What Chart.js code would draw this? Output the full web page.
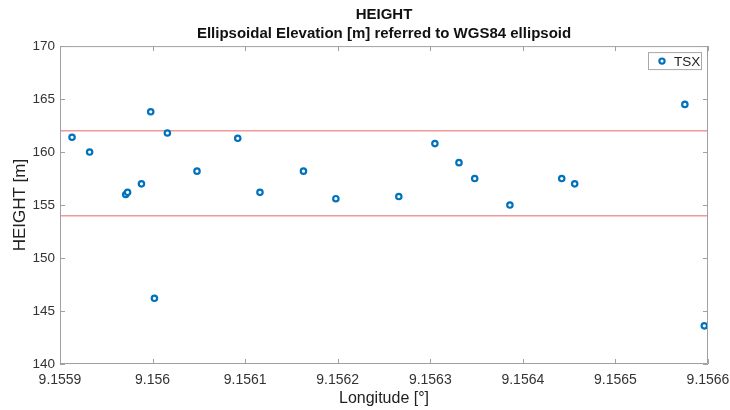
<!DOCTYPE html>
<html>
<head>
<meta charset="utf-8">
<script src="https://cdn.jsdelivr.net/npm/chart.js@4/dist/chart.umd.min.js"></script>
<style>
  html, body { margin: 0; padding: 0; background: #fff; }
</style>
</head>
<body>
<canvas id="heightChart" width="730" height="410"></canvas>
<script>
// TSX height samples along longitude
const longitude = [
  9.155913, 9.155932, 9.155971, 9.155973, 9.155988, 9.155998, 9.156002,
  9.156016, 9.156048, 9.156092, 9.156116, 9.156163, 9.156198, 9.156266,
  9.156305, 9.156331, 9.156348, 9.156386, 9.156442, 9.156456, 9.156575,
  9.156596
];
const height = [
  161.4, 160.0, 156.0, 156.2, 157.0, 163.8, 146.2,
  161.8, 158.2, 161.3, 156.2, 158.2, 155.6, 155.8,
  160.8, 159.0, 157.5, 155.0, 157.5, 157.0, 164.5,
  143.6
];
const upperLimit = 162;
const lowerLimit = 154;
const xTicks = [9.1559, 9.156, 9.1561, 9.1562, 9.1563, 9.1564, 9.1565, 9.1566];
const yTicks = [140, 145, 150, 155, 160, 165, 170];

const FONT = "'Liberation Sans', Arial, Helvetica, sans-serif";
const BOX_COLOR = '#a0a0a0';
const TSX_BLUE = '#0072BD';
const LIMIT_RED = 'rgba(232, 110, 110, 0.7)';

const xMin = xTicks[0];
const xMax = xTicks[xTicks.length - 1];

const tsxPoints = longitude.map((x, i) => ({ x: x, y: height[i] }));
const limitLine = (v) => [{ x: xMin, y: v }, { x: xMax, y: v }];

// axes box with inward tick marks on all four sides, plus the legend
const boxTicks = {
  id: 'boxTicks',
  afterDraw(chart) {
    const { ctx, chartArea: a, scales } = chart;
    const len = 5;
    ctx.save();
    ctx.strokeStyle = BOX_COLOR;
    ctx.lineWidth = 1;
    ctx.beginPath();
    ctx.rect(a.left + 0.5, a.top + 0.5, a.right - a.left - 1, a.bottom - a.top - 1);
    scales.x.ticks.forEach(t => {
      const px = Math.round(scales.x.getPixelForValue(t.value)) + 0.5;
      ctx.moveTo(px, a.bottom); ctx.lineTo(px, a.bottom - len);
      ctx.moveTo(px, a.top); ctx.lineTo(px, a.top + len);
    });
    scales.y.ticks.forEach(t => {
      const py = Math.round(scales.y.getPixelForValue(t.value)) + 0.5;
      ctx.moveTo(a.left, py); ctx.lineTo(a.left + len, py);
      ctx.moveTo(a.right, py); ctx.lineTo(a.right - len, py);
    });
    ctx.stroke();

    // legend box, top right inside the axes
    const w = 54, h = 18;
    const lx = a.right - 6 - w, ly = a.top + 6;
    ctx.fillStyle = '#fff';
    ctx.fillRect(lx, ly, w, h);
    ctx.strokeStyle = '#a8a8a8';
    ctx.lineWidth = 1;
    ctx.strokeRect(lx + 0.5, ly + 0.5, w - 1, h - 1);
    ctx.beginPath();
    ctx.arc(lx + 14, ly + h / 2, 2.6, 0, Math.PI * 2);
    ctx.fillStyle = '#fff';
    ctx.fill();
    ctx.lineWidth = 2.2;
    ctx.strokeStyle = TSX_BLUE;
    ctx.stroke();
    ctx.fillStyle = '#222';
    ctx.font = '13.5px ' + FONT;
    ctx.textBaseline = 'middle';
    ctx.textAlign = 'left';
    ctx.fillText(chart.data.datasets[0].label, lx + 26, ly + h / 2 + 1);
    ctx.restore();
  }
};

new Chart(document.getElementById('heightChart'), {
  type: 'scatter',
  data: {
    datasets: [
      {
        label: 'TSX',
        data: tsxPoints,
        pointStyle: 'circle',
        pointRadius: 2.7,
        pointBorderWidth: 2.2,
        pointBorderColor: TSX_BLUE,
        pointBackgroundColor: '#ffffff',
        pointHoverRadius: 2.7
      },
      {
        label: 'upper',
        data: limitLine(upperLimit),
        showLine: true,
        pointRadius: 0,
        borderColor: LIMIT_RED,
        borderWidth: 1.5
      },
      {
        label: 'lower',
        data: limitLine(lowerLimit),
        showLine: true,
        pointRadius: 0,
        borderColor: LIMIT_RED,
        borderWidth: 1.5
      }
    ]
  },
  options: {
    responsive: false,
    animation: false,
    devicePixelRatio: 1,
    layout: { padding: { left: 0, right: 22, top: 0, bottom: 0 } },
    plugins: {
      legend: { display: false },
      tooltip: { enabled: false },
      title: {
        display: true,
        fullSize: false,
        text: ['HEIGHT', 'Ellipsoidal Elevation [m] referred to WGS84 ellipsoid'],
        color: '#111',
        font: { family: FONT, size: 15, weight: 'bold', lineHeight: 1.27 },
        padding: { top: 5, bottom: 3 }
      }
    },
    scales: {
      x: {
        type: 'linear',
        min: xMin,
        max: xMax,
        afterBuildTicks: (scale) => { scale.ticks = xTicks.map(v => ({ value: v })); },
        afterFit: (scale) => {
          scale.height = 46;
          scale.paddingLeft = 0;
          scale.paddingRight = 0;
        },
        grid: { display: false, drawTicks: false },
        border: { display: false },
        ticks: {
          padding: 8,
          maxRotation: 0,
          autoSkip: false,
          color: '#333',
          font: { family: FONT, size: 14 },
          callback: (v) => String(+Number(v).toFixed(4))
        },
        title: {
          display: true,
          text: 'Longitude [°]',
          color: '#222',
          font: { family: FONT, size: 16 },
          padding: { top: 0, bottom: 2 }
        }
      },
      y: {
        min: yTicks[0],
        max: yTicks[yTicks.length - 1],
        afterBuildTicks: (scale) => { scale.ticks = yTicks.map(v => ({ value: v })); },
        afterFit: (scale) => {
          scale.width = 60;
          scale.paddingTop = 0;
          scale.paddingBottom = 0;
        },
        grid: { display: false, drawTicks: false },
        border: { display: false },
        ticks: {
          padding: 5,
          color: '#333',
          font: { family: FONT, size: 13.5 }
        },
        title: {
          display: true,
          text: 'HEIGHT [m]',
          color: '#222',
          font: { family: FONT, size: 17 },
          padding: { top: 10, bottom: 0 }
        }
      }
    }
  },
  plugins: [boxTicks]
});
</script>
</body>
</html>
